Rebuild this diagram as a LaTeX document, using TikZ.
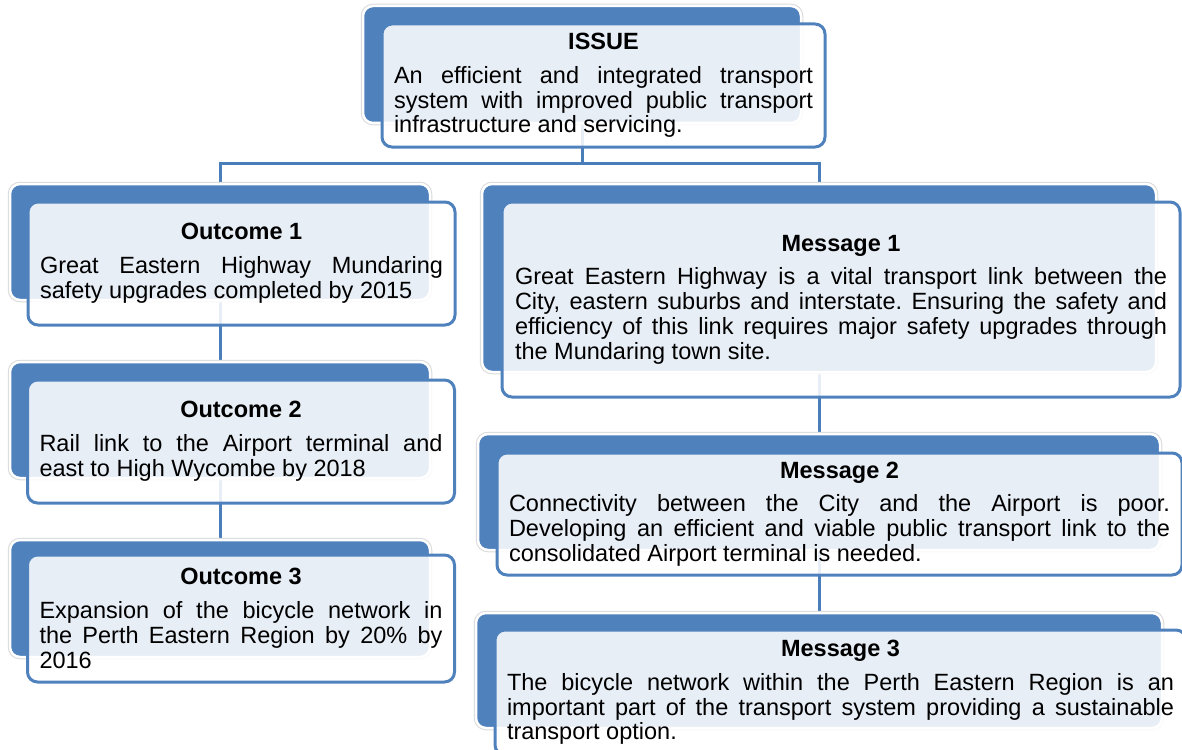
\documentclass[tikz,border=0pt]{standalone}
\usepackage{fontspec}
\setmainfont{Liberation Sans}
\usetikzlibrary{backgrounds}

\definecolor{panelblue}{RGB}{79,129,189}
\definecolor{linkblue}{RGB}{74,126,187}

\hyphenpenalty=10000
\exhyphenpenalty=10000
\frenchspacing

% bold centred heading on top of each panel
\newcommand{\paneltitle}[1]{\begingroup\centering\bfseries #1\par\endgroup
  \vspace{9pt}\noindent}

\tikzset{
  backbox/.style={rectangle, rounded corners=10pt, fill=panelblue,
    draw=white, line width=2.5pt, inner sep=0pt,
    preaction={draw=black!15, line width=4.5pt}},
  frontbox/.style={rectangle, rounded corners=10pt, draw=panelblue,
    line width=3pt, fill=white, fill opacity=0.87, text opacity=1,
    inner xsep=12pt, inner ysep=4pt, align=justify,
    font=\fontsize{23.5}{24.8}\selectfont},
  link/.style={draw=linkblue, line width=3pt}
}

\begin{document}
\begin{tikzpicture}[x=1pt,y=-1pt]
  \useasboundingbox (0,0) rectangle (1182,749);

  % issue
  \node[backbox, minimum width=438pt, minimum height=117pt] (issueB) at (582,64.5) {};
  \node[frontbox, minimum width=443pt, minimum height=123pt, text width=419pt] (issue) at (603.5,85.5)
    {\paneltitle{ISSUE}An efficient and integrated transport\linebreak
     system with improved public transport\linebreak
     infrastructure and servicing.};

  % outcomes, left column
  \node[backbox, minimum width=420pt, minimum height=116pt] (out1B) at (220,242) {};
  \node[frontbox, minimum width=427pt, minimum height=123pt, text width=403pt] (out1) at (241.5,263.5)
    {\paneltitle{Outcome 1}Great Eastern Highway Mundaring\linebreak
     safety upgrades completed by 2015};

  \node[backbox, minimum width=420pt, minimum height=116pt] (out2B) at (220,420) {};
  \node[frontbox, minimum width=427pt, minimum height=123pt, text width=403pt] (out2) at (241,441.5)
    {\paneltitle{Outcome 2}Rail link to the Airport terminal and\linebreak
     east to High Wycombe by 2018};

  \node[backbox, minimum width=420pt, minimum height=117pt] (out3B) at (220,598.5) {};
  \node[frontbox, minimum width=427pt, minimum height=127pt, text width=403pt] (out3) at (241,618.5)
    {\paneltitle{Outcome 3}Expansion of the bicycle network in\linebreak
     the Perth Eastern Region by 20\% by\linebreak
     2016};

  % messages, right column
  \node[backbox, minimum width=674pt, minimum height=188pt] (msg1B) at (819,278) {};
  \node[frontbox, minimum width=678pt, minimum height=195pt, text width=652pt] (msg1) at (841,299.5)
    {\paneltitle{Message 1}Great Eastern Highway is a vital transport link between the\linebreak
     City, eastern suburbs and interstate. Ensuring the safety and\linebreak
     efficiency of this link requires major safety upgrades through\linebreak
     the Mundaring town site.};

  \node[backbox, minimum width=682pt, minimum height=116pt] (msg2B) at (819,492) {};
  \node[frontbox, minimum width=685pt, minimum height=122pt, text width=661pt] (msg2) at (839.5,514)
    {\paneltitle{Message 2}Connectivity between the City and the Airport is poor.\linebreak
     Developing an efficient and viable public transport link to the\linebreak
     consolidated Airport terminal is needed.};

  \node[backbox, minimum width=686pt, minimum height=115pt] (msg3B) at (819,670.5) {};
  \node[frontbox, minimum width=691pt, minimum height=125pt, text width=667pt] (msg3) at (840.5,692.5)
    {\paneltitle{Message 3}The bicycle network within the Perth Eastern Region is an\linebreak
     important part of the transport system providing a sustainable\linebreak
     transport option.};

  % tree lines behind the panels
  \begin{scope}[on background layer]
    \path (issueB.center) ++(0,98.5) coordinate (fork);
    \draw[link] (issueB.center) -- (fork);
    \draw[link] (fork) -| (out1B.center);
    \draw[link] (fork) -| (msg1B.center);
    \draw[link] (out1B.center) -- (out2B.center) -- (out3B.center);
    \draw[link] (msg1B.center) -- (msg2B.center) -- (msg3B.center);
  \end{scope}
\end{tikzpicture}
\end{document}
